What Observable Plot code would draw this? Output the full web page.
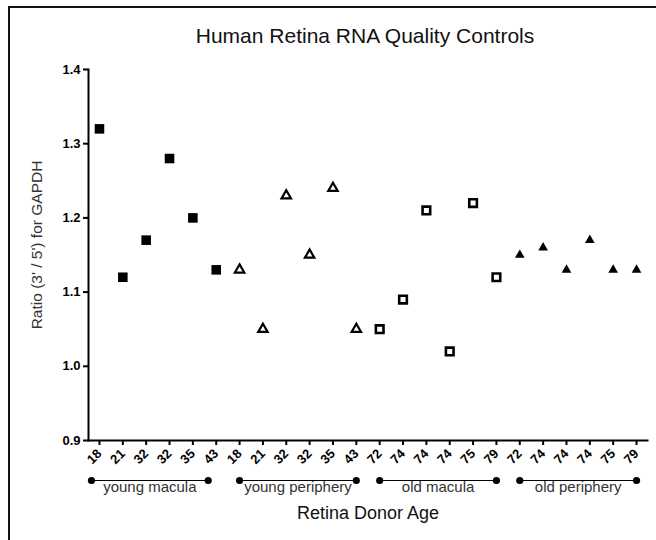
<!DOCTYPE html>
<html><head><meta charset="utf-8">
<script src="https://cdn.jsdelivr.net/npm/d3@7"></script>
<script src="https://cdn.jsdelivr.net/npm/@observablehq/plot@0.6"></script>
<style>
body{margin:0;background:#fff;}
#wrap{position:relative;width:656px;height:540px;overflow:hidden;background:#fff;}
#border{position:absolute;left:8px;top:6px;width:700px;height:600px;border-top:2px solid #111;border-left:2px solid #111;pointer-events:none;}
</style></head><body><div id="wrap"></div>
<script>
const title = "Human Retina RNA Quality Controls";
const yLabel = "Ratio (3' / 5') for GAPDH";
const xLabel = "Retina Donor Age";
const groups = ["young macula", "young periphery", "old macula", "old periphery"];
const ages = [
  [18, 21, 32, 32, 35, 43],
  [18, 21, 32, 32, 35, 43],
  [72, 74, 74, 74, 75, 79],
  [72, 74, 74, 74, 75, 79]
];
const ratios = [
  [1.32, 1.12, 1.17, 1.28, 1.20, 1.13],
  [1.13, 1.05, 1.23, 1.15, 1.24, 1.05],
  [1.05, 1.09, 1.21, 1.02, 1.22, 1.12],
  [1.15, 1.16, 1.13, 1.17, 1.13, 1.13]
];
const yTicks = [0.9, 1.0, 1.1, 1.2, 1.3, 1.4];

const W = 656, H = 540, mt = 69, mb = 100, ml = 88, mr = 9;
const rows = [];
groups.forEach((g, gi) => ages[gi].forEach((a, k) => rows.push({i: rows.length, g: gi, age: a, ratio: ratios[gi][k]})));
const n = rows.length;
const pad = 0.47;
const spans = groups.map((g, gi) => {
  const r = rows.filter(d => d.g === gi);
  return {g, gi, start: r[0].i, end: r[r.length - 1].i, mid: (r[0].i + r[r.length - 1].i) / 2};
});

const symStyles = [
  {symbol: "square", fill: "#000", stroke: "none", r: 5.4},
  {symbol: "triangle", fill: "#fff", stroke: "#000", strokeWidth: 2.2, r: 3.5},
  {symbol: "square", fill: "#fff", stroke: "#000", strokeWidth: 2.6, r: 4.3},
  {symbol: "triangle", fill: "#000", stroke: "none", r: 3.6}
];

const marks = [];
symStyles.forEach((s, gi) => {
  marks.push(Plot.dot(rows.filter(d => d.g === gi), {x: "i", y: "ratio", ...s}));
});

const bracketY = 40;
spans.forEach(s => {
  const dx = s.gi === 0 ? -8 : 0;
  marks.push(Plot.ruleY([s], {x1: "start", x2: "end", y: null, stroke: "#000", strokeWidth: 1.2, dx,
    dy: (H - mb + bracketY) - (mt + H - mb) / 2}));
  marks.push(Plot.dot([s.start, s.end], {x: d => d, frameAnchor: "bottom", dy: bracketY, dx, r: 3.6, fill: "#000", stroke: "none"}));
  marks.push(Plot.text([s], {x: "mid", text: "g", frameAnchor: "bottom", lineAnchor: "middle", dy: bracketY + 7, dx, fontSize: 15, fill: "#333"}));
});

marks.push(
  Plot.axisX({ticks: d3.range(n), tickFormat: i => String(rows[i].age), tickRotate: -45, tickSize: 5, strokeWidth: 2,
    fontWeight: "bold", fontSize: 13, tickPadding: 6, label: null}),
  Plot.axisY({ticks: yTicks, tickFormat: d3.format(".1f"), tickSize: 5, strokeWidth: 2, fontWeight: "bold", fontSize: 13, tickPadding: 3, label: null}),
  Plot.frame({anchor: "left", strokeWidth: 2}),
  Plot.frame({anchor: "bottom", strokeWidth: 2}),
  Plot.text([title], {frameAnchor: "top", lineAnchor: "middle", dy: -33, dx: -3, fontSize: 21, fill: "#111"}),
  Plot.text([yLabel], {frameAnchor: "left", textAnchor: "middle", lineAnchor: "middle", dx: -51, dy: -10, rotate: -90, fontSize: 15.5, fill: "#333"}),
  Plot.text([xLabel], {frameAnchor: "bottom", lineAnchor: "middle", dy: 73, fontSize: 18, fill: "#111"})
);

const chart = Plot.plot({
  width: W, height: H,
  marginTop: mt, marginBottom: mb, marginLeft: ml, marginRight: mr,
  style: {fontFamily: "'Liberation Sans', Arial, sans-serif", fontSize: "13px", background: "transparent", color: "#000"},
  x: {type: "linear", domain: [-pad, n - 1 + pad]},
  y: {domain: [0.9, 1.4]},
  marks
});
const wrap = document.getElementById("wrap");
wrap.appendChild(chart);
const b = document.createElement("div");
b.id = "border";
wrap.appendChild(b);
chart.style.position = "absolute";
chart.style.left = "0";
chart.style.top = "0";
</script>
</body></html>
